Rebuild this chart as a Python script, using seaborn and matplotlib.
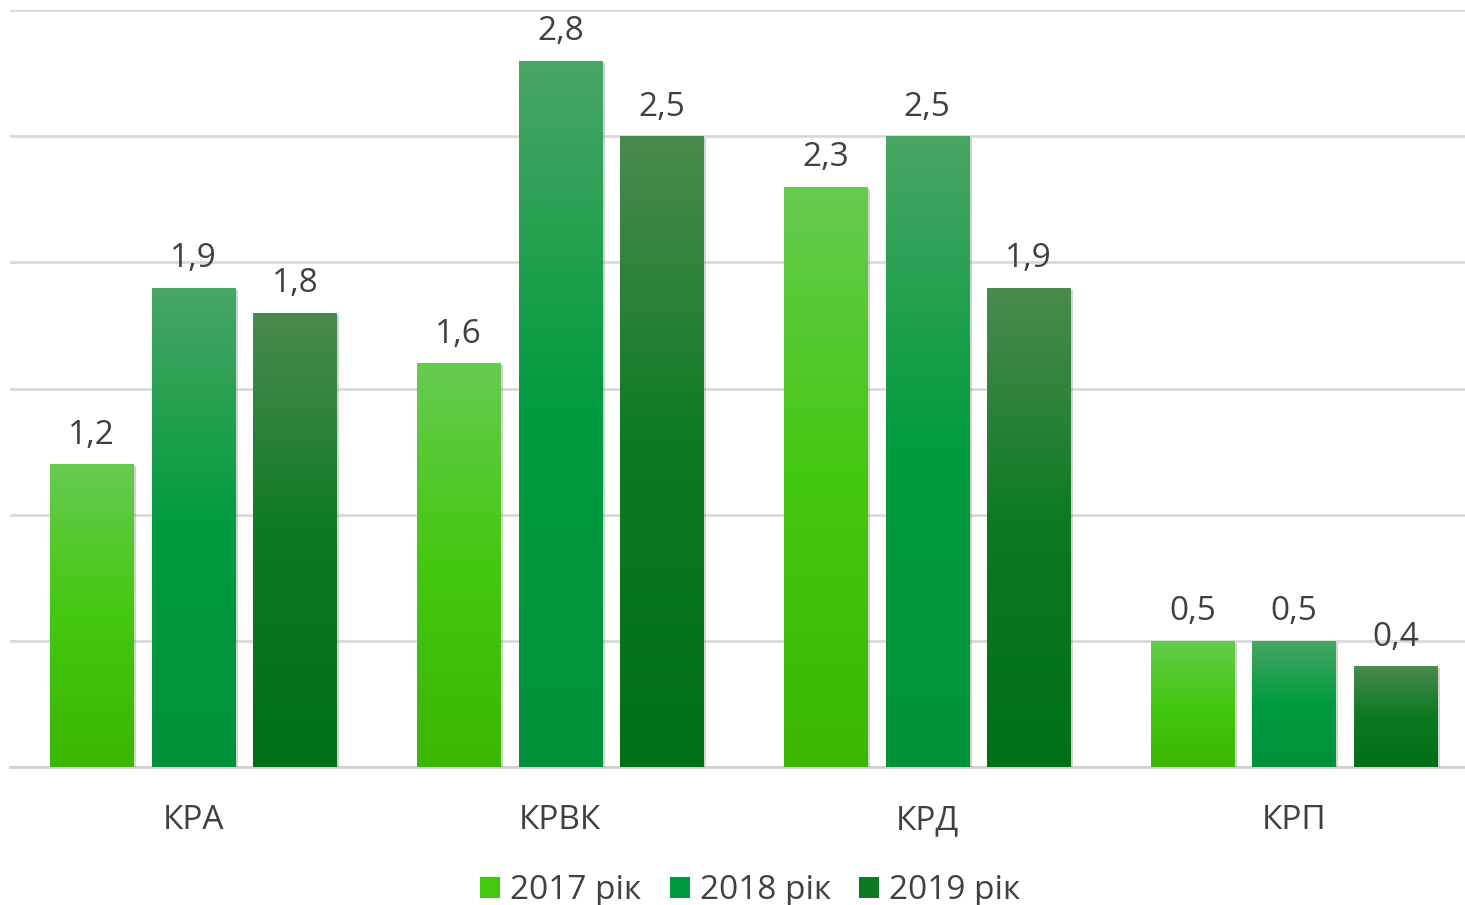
import numpy as np
import pandas as pd
import seaborn as sns
import matplotlib.pyplot as plt
from matplotlib.colors import LinearSegmentedColormap
from matplotlib.patches import Patch
import matplotlib.patheffects as pe

# chart data
categories = ['КРА', 'КРВК', 'КРД', 'КРП']
years = ['2017 рік', '2018 рік', '2019 рік']
values_2017 = [1.2, 1.6, 2.3, 0.5]
values_2018 = [1.9, 2.8, 2.5, 0.5]
values_2019 = [1.8, 2.5, 1.9, 0.4]

# gradient stops per series: top, middle, bottom
grad_colors = {
    '2017 рік': ['#67cb50', '#43c810', '#3ab702'],
    '2018 рік': ['#49a663', '#009b3f', '#00923a'],
    '2019 рік': ['#4b8a4f', '#0b7a22', '#007016'],
}
mid_colors = [grad_colors[y][1] for y in years]

df = pd.DataFrame({
    'cat': categories * 3,
    'year': [years[0]] * 4 + [years[1]] * 4 + [years[2]] * 4,
    'val': values_2017 + values_2018 + values_2019,
})

sns.set_style('white')
plt.rcParams['font.family'] = ['Open Sans', 'DejaVu Sans']
text_col = '#404040'

fig = plt.figure(figsize=(14.65, 9.05), dpi=100)
ax = fig.add_axes([0.0068, 0.1525, 1.0017, 0.8364])

sns.barplot(data=df, x='cat', y='val', hue='year', palette=mid_colors,
            width=0.83, gap=0.18, ax=ax, legend=False, zorder=3)

grad = np.linspace(0, 1, 256).reshape(-1, 1)
for cont, yr in zip(ax.containers, years):
    cmap = LinearSegmentedColormap.from_list(yr, grad_colors[yr])
    for bar, v in zip(cont.patches, cont.datavalues):
        x0, y0 = bar.get_x(), bar.get_y()
        w, h = bar.get_width(), bar.get_height()
        bar.set_facecolor('none')
        bar.set_edgecolor('none')
        bar.set_path_effects([pe.SimplePatchShadow(offset=(2, -1.5),
                                                   shadow_rgbFace='#808080',
                                                   alpha=0.35)])
        img = ax.imshow(grad, cmap=cmap, aspect='auto', origin='upper',
                        extent=[x0, x0 + w, y0, y0 + h], zorder=4)
        img.set_clip_path(bar)
        ax.annotate(f'{v:.1f}'.replace('.', ','), (x0 + w / 2, y0 + h),
                    xytext=(0, 9), textcoords='offset points',
                    ha='center', va='bottom', fontsize=24, color=text_col)

ax.set_xlim(-0.5, 3.5)
ax.set_ylim(0, 3.0)
ax.set_yticks(np.arange(0, 3.01, 0.5))
ax.set_yticklabels([])
ax.yaxis.grid(True, color='#d9d9d9', linewidth=2, zorder=0)
ax.set_axisbelow(True)
ax.set_xlabel('')
ax.set_ylabel('')
ax.tick_params(axis='x', length=0, pad=27, labelsize=24, labelcolor=text_col)
ax.tick_params(axis='y', length=0)
for s in ['left', 'right', 'top']:
    ax.spines[s].set_visible(False)
ax.spines['bottom'].set_color('#d0d0d0')
ax.spines['bottom'].set_linewidth(2)

handles = [Patch(facecolor=c, edgecolor='none') for c in mid_colors]
leg = fig.legend(handles, years, loc='center', bbox_to_anchor=(0.512, 0.016),
                 ncol=3, frameon=False, fontsize=24, handlelength=0.6,
                 handleheight=0.6, handletextpad=0.3, columnspacing=0.85)
for t in leg.get_texts():
    t.set_color(text_col)

fig.savefig('out.png', dpi=100)
